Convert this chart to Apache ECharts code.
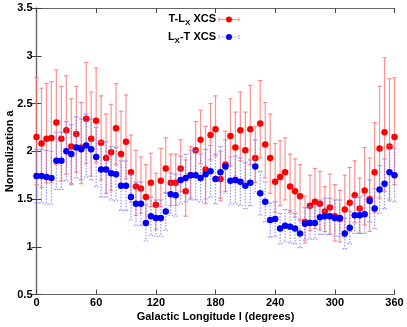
<!DOCTYPE html>
<html>
<head>
<meta charset="utf-8">
<script src="https://cdn.jsdelivr.net/npm/echarts@6/dist/echarts.min.js"></script>
<style>
html,body{margin:0;padding:0;background:#fff;}
#chart{width:407px;height:327px;}
</style>
</head>
<body>
<div id="chart"></div>
<script>
// Galactic longitude (degrees)
const lon = [0,5,10,15,20,25,30,35,40,45,50,55,60,65,70,75,80,85,90,95,100,105,110,115,120,125,130,135,140,145,150,155,160,165,170,175,180,185,190,195,200,205,210,215,220,225,230,235,240,245,250,255,260,265,270,275,280,285,290,295,300,305,310,315,320,325,330,335,340,345,350,355,360];
// T-Lx XCS normalization and error-bar ends
const redVal = [2.15,2.08,2.13,2.14,2.30,2.13,2.22,2.05,2.18,2.04,2.34,2.13,2.32,2.09,1.93,1.99,2.24,1.97,2.10,1.78,1.63,1.61,1.52,1.67,1.44,1.69,1.82,1.67,1.67,1.82,1.58,1.75,2.01,2.12,1.81,2.17,2.23,1.71,1.86,2.16,2.04,2.22,2.01,2.23,1.93,2.29,2.07,1.93,1.68,1.73,1.78,1.63,1.58,1.53,1.26,1.43,1.47,1.45,1.37,1.41,1.32,1.29,1.39,1.46,1.54,1.40,1.59,1.50,1.78,2.03,2.20,2.05,2.15];
const redHi = [2.77,2.66,2.71,2.73,2.85,2.68,2.79,2.55,2.68,2.51,2.93,2.62,2.87,2.58,2.39,2.49,2.71,2.42,2.59,2.17,2.01,1.94,1.86,1.98,1.77,2.03,2.14,1.97,1.97,2.12,1.91,2.05,2.31,2.43,2.26,2.50,2.58,2.00,2.21,2.55,2.41,2.62,2.41,2.69,2.26,2.74,2.51,2.39,2.08,2.11,2.14,1.97,1.92,1.86,1.53,1.75,1.82,1.79,1.63,1.76,1.65,1.59,1.75,1.83,1.90,1.72,2.04,1.93,2.30,2.68,2.98,2.76,2.77];
const redLo = [1.65,1.62,1.67,1.67,1.86,1.69,1.76,1.65,1.78,1.66,1.87,1.74,1.88,1.70,1.56,1.59,1.86,1.61,1.71,1.47,1.33,1.35,1.25,1.42,1.18,1.42,1.56,1.43,1.43,1.58,1.32,1.51,1.77,1.87,1.45,1.91,1.95,1.48,1.58,1.85,1.74,1.90,1.69,1.86,1.67,1.93,1.72,1.56,1.36,1.43,1.49,1.36,1.31,1.27,1.04,1.17,1.19,1.18,1.16,1.13,1.06,1.05,1.10,1.16,1.25,1.14,1.23,1.16,1.36,1.51,1.58,1.48,1.65];
// Lx-T XCS normalization and symmetric error
const blueVal = [1.74,1.74,1.73,1.72,1.90,1.90,2.00,1.97,2.04,2.02,2.06,2.02,1.94,1.81,1.81,1.77,1.76,1.64,1.64,1.52,1.45,1.45,1.25,1.32,1.30,1.30,1.37,1.55,1.54,1.70,1.72,1.75,1.75,1.72,1.76,1.79,1.71,1.78,1.84,1.69,1.70,1.68,1.64,1.67,1.84,1.56,1.47,1.28,1.29,1.19,1.22,1.21,1.19,1.14,1.24,1.25,1.25,1.31,1.32,1.32,1.30,1.30,1.14,1.20,1.33,1.33,1.34,1.48,1.40,1.60,1.66,1.78,1.75];
const blueErr = [0.28,0.28,0.28,0.28,0.30,0.30,0.31,0.31,0.32,0.32,0.33,0.32,0.31,0.29,0.29,0.28,0.28,0.26,0.26,0.24,0.23,0.23,0.19,0.20,0.19,0.19,0.20,0.22,0.22,0.25,0.25,0.26,0.26,0.25,0.26,0.27,0.26,0.27,0.28,0.25,0.25,0.25,0.24,0.24,0.28,0.23,0.21,0.18,0.18,0.16,0.17,0.17,0.16,0.15,0.17,0.17,0.17,0.18,0.19,0.19,0.19,0.19,0.16,0.17,0.19,0.19,0.20,0.22,0.21,0.25,0.26,0.28,0.28];
const xTicks = [0,60,120,180,240,300,360];
const yTicks = [0.5,1,1.5,2,2.5,3,3.5];

const FONT = 'Liberation Sans';
const RED = '#ff0000', RED_BAR = 'rgba(255,110,110,0.75)';
const BLUE = '#0000ff', BLUE_BAR = 'rgba(120,120,255,0.8)';

function errBar(color, dash){
  return function(params, api){
    const x = api.value(0), lo = api.value(1), hi = api.value(2);
    const a = api.coord([x, hi]), b = api.coord([x, lo]);
    const w = 2.2;
    const st = {stroke: color, lineWidth: 1.2, lineDash: dash};
    return {type:'group', children:[
      {type:'line', shape:{x1:a[0],y1:a[1],x2:b[0],y2:b[1]}, style:st},
      {type:'line', shape:{x1:a[0]-w,y1:a[1],x2:a[0]+w,y2:a[1]}, style:st},
      {type:'line', shape:{x1:b[0]-w,y1:b[1],x2:b[0]+w,y2:b[1]}, style:st}
    ]};
  };
}

const redBars = lon.map((l,i)=>[l, redLo[i], redHi[i]]);
const blueBars = lon.map((l,i)=>[l, +(blueVal[i]-blueErr[i]).toFixed(3), +(blueVal[i]+blueErr[i]).toFixed(3)]);
const redPts = lon.map((l,i)=>[l, redVal[i]]);
const bluePts = lon.map((l,i)=>[l, blueVal[i]]);

const axisCommon = {
  type:'value',
  axisLine:{show:true, lineStyle:{color:'#666', width:1.2}},
  axisTick:{show:true, inside:true, length:5, lineStyle:{color:'#444', width:1}},
  splitLine:{show:false}
};

const chart = echarts.init(document.getElementById('chart'), null, {renderer:'canvas'});
chart.setOption({
  animation:false,
  backgroundColor:'#fff',
  grid:{left:36.5, right:12.5, top:8, bottom:32.5, show:false, containLabel:false, outerBoundsMode:'none'},
  xAxis:[
    Object.assign({}, axisCommon, {
      position:'bottom', min:0, max:360, interval:60,
      axisLabel:{show:true, margin:3, color:'#000', fontFamily:FONT, fontWeight:'bold', fontSize:11,
        customValues:xTicks},
      name:'Galactic Longitude l (degrees)', nameLocation:'middle', nameGap:17, nameMoveOverlap:false,
      nameTextStyle:{color:'#000', fontFamily:FONT, fontWeight:'bold', fontSize:11}
    }),
    Object.assign({}, axisCommon, {position:'top', min:0, max:360, interval:60, axisLabel:{show:false}})
  ],
  yAxis:[
    Object.assign({}, axisCommon, {
      position:'left', min:0.5, max:3.5, interval:0.5,
      axisLabel:{show:true, margin:4, color:'#000', fontFamily:FONT, fontWeight:'bold', fontSize:11,
        formatter:v=>String(v)},
      name:'Normalization a', nameLocation:'middle', nameGap:21, nameRotate:90, nameMoveOverlap:false,
      nameTextStyle:{color:'#000', fontFamily:FONT, fontWeight:'bold', fontSize:11}
    }),
    Object.assign({}, axisCommon, {position:'right', min:0.5, max:3.5, interval:0.5, axisLabel:{show:false}})
  ],
  series:[
    {type:'custom', name:'T-Lx bars', renderItem:errBar(RED_BAR, null), data:redBars,
      encode:{x:0, y:[1,2]}, z:2, silent:true},
    {type:'scatter', name:'T-Lx XCS', data:redPts, symbol:'circle', symbolSize:6.5,
      itemStyle:{color:RED, opacity:1}, z:3, silent:true},
    {type:'custom', name:'Lx-T bars', renderItem:errBar(BLUE_BAR, [1.5,1.5]), data:blueBars,
      encode:{x:0, y:[1,2]}, z:4, silent:true},
    {type:'scatter', name:'Lx-T XCS', data:bluePts, symbol:'circle', symbolSize:6.5,
      itemStyle:{color:BLUE, opacity:1}, z:5, silent:true}
  ],
  graphic:[
    {type:'text', right:407-216, top:13, style:{
      text:'T-L{s|X} XCS', align:'right', fill:'#000', font:'bold 11px "Liberation Sans"',
      rich:{s:{fontSize:8, fontWeight:'bold', fontFamily:FONT, verticalAlign:'bottom', padding:[0,0,-3,0]}}}},
    {type:'text', right:407-216, top:31, style:{
      text:'L{s|X}-T XCS', align:'right', fill:'#000', font:'bold 11px "Liberation Sans"',
      rich:{s:{fontSize:8, fontWeight:'bold', fontFamily:FONT, verticalAlign:'bottom', padding:[0,0,-3,0]}}}},
    {type:'line', shape:{x1:219,y1:19.5,x2:239,y2:19.5}, style:{stroke:RED_BAR, lineWidth:1.2}},
    {type:'line', shape:{x1:219,y1:17.5,x2:219,y2:21.5}, style:{stroke:RED_BAR, lineWidth:1.2}},
    {type:'line', shape:{x1:239,y1:17.5,x2:239,y2:21.5}, style:{stroke:RED_BAR, lineWidth:1.2}},
    {type:'circle', shape:{cx:229,cy:19.5,r:3}, style:{fill:RED}},
    {type:'line', shape:{x1:219,y1:37,x2:239,y2:37}, style:{stroke:BLUE_BAR, lineWidth:1.2, lineDash:[1.5,1.5]}},
    {type:'line', shape:{x1:219,y1:35,x2:219,y2:39}, style:{stroke:BLUE_BAR, lineWidth:1.2, lineDash:[1.5,1.5]}},
    {type:'line', shape:{x1:239,y1:35,x2:239,y2:39}, style:{stroke:BLUE_BAR, lineWidth:1.2, lineDash:[1.5,1.5]}},
    {type:'circle', shape:{cx:229,cy:37,r:3}, style:{fill:BLUE}}
  ]
});
</script>
</body>
</html>
